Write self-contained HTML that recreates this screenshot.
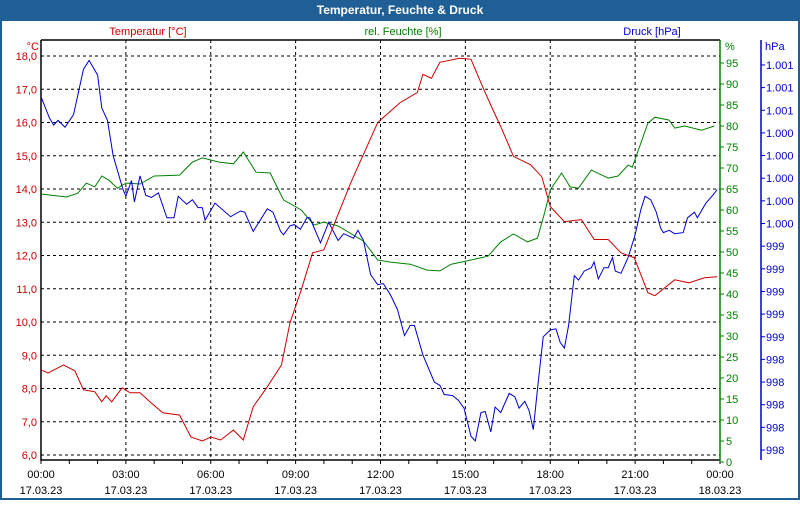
<!DOCTYPE html>
<html><head><meta charset="utf-8">
<style>
html,body{margin:0;padding:0;background:#fff;}
body{width:800px;height:500px;overflow:hidden;font-family:"Liberation Sans","DejaVu Sans",sans-serif;}
</style></head>
<body>
<svg id="chart" width="800" height="500" xmlns="http://www.w3.org/2000/svg" font-family="Liberation Sans, DejaVu Sans, sans-serif" font-size="11">
  <rect x="0" y="0" width="800" height="500" fill="#1f5f96"/>
  <rect x="2" y="21" width="796" height="477" fill="#ffffff"/>
  <text x="400" y="14" text-anchor="middle" fill="#ffffff" font-weight="bold" font-size="12">Temperatur, Feuchte &amp; Druck</text>
  <text x="148" y="35" text-anchor="middle" fill="#cc0000">Temperatur [°C]</text>
  <text x="403" y="35" text-anchor="middle" fill="#008000">rel. Feuchte [%]</text>
  <text x="652" y="35" text-anchor="middle" fill="#0000cc">Druck [hPa]</text>
  <text x="39" y="50" text-anchor="end" fill="#cc0000">°C</text>
  <text x="725" y="50" fill="#008000">%</text>
  <text x="765" y="50" fill="#0000cc">hPa</text>
  <g id="grid"></g>
  <g id="axes"></g>
  <g id="series"></g>
</svg>
<script>
const tempHours = [0,0.25,0.8,1.2,1.5,1.9,2.15,2.3,2.5,2.87,3.15,3.5,3.85,4.3,4.9,5.3,5.7,6.0,6.35,6.8,7.15,7.5,8.0,8.5,8.8,9.2,9.6,10.0,10.95,11.9,12.7,13.3,13.5,13.8,14.1,14.8,15.2,15.65,16.0,16.25,16.7,17.3,17.7,18.0,18.5,19.1,19.55,20.05,20.5,20.97,21.45,21.7,22.4,22.9,23.45,23.9];
const tempValues = [8.56,8.47,8.71,8.53,7.96,7.90,7.60,7.78,7.60,8.02,7.87,7.87,7.60,7.27,7.20,6.54,6.42,6.54,6.45,6.75,6.45,7.45,8.05,8.71,9.98,10.97,12.08,12.17,14.19,16.0,16.6,16.9,17.45,17.33,17.81,17.93,17.9,16.99,16.33,15.88,14.98,14.73,14.37,13.47,13.02,13.08,12.48,12.48,12.08,11.93,10.88,10.79,11.27,11.18,11.33,11.36];
const humHours = [0,0.9,1.3,1.6,1.9,2.15,2.4,2.7,3.0,3.5,4.0,4.9,5.35,5.7,6.3,6.8,7.15,7.6,8.1,8.57,9.2,9.65,10.0,10.5,11.4,11.9,12.35,13.05,13.65,14.1,14.5,15.2,15.8,16.25,16.7,17.2,17.55,17.8,18.0,18.4,18.7,19.0,19.45,20.05,20.4,20.75,20.9,21.45,21.7,22.2,22.4,22.75,23.35,23.8];
const humValues = [63.8,63.1,64.0,66.4,65.5,68.1,67.1,65.2,66.4,66.2,68.1,68.3,71.4,72.4,71.4,71.0,73.8,69.0,68.8,62.4,60.0,56.4,57.1,56.2,52.6,48.1,47.6,47.1,45.7,45.5,47.1,48.1,49.0,52.4,54.3,52.4,53.3,59.3,64.8,68.8,65.5,65.2,69.5,67.6,68.1,70.7,70.2,80.7,82.1,81.4,79.5,80.0,79.0,80.0];
const presHours = [0,0.3,0.45,0.6,0.85,1.15,1.5,1.7,2.0,2.15,2.35,2.55,2.7,2.9,3.0,3.2,3.3,3.5,3.7,3.9,4.15,4.45,4.7,4.85,5.15,5.35,5.55,5.7,5.8,6.15,6.7,7.05,7.2,7.5,8.0,8.2,8.47,8.57,8.8,8.95,9.17,9.4,9.5,9.88,10.17,10.5,10.7,11.05,11.2,11.4,11.65,11.9,12.1,12.35,12.6,12.85,13.05,13.2,13.5,13.9,14.1,14.25,14.55,14.75,14.95,15.2,15.35,15.55,15.7,15.9,16.05,16.25,16.55,16.75,16.9,17.1,17.25,17.4,17.55,17.75,18.0,18.2,18.35,18.5,18.65,18.85,19.0,19.2,19.45,19.55,19.7,19.9,20.05,20.2,20.3,20.5,20.75,21.0,21.2,21.35,21.55,21.75,21.9,22.0,22.2,22.4,22.7,22.85,23.1,23.2,23.5,23.75,23.9];
const presValues = [1000.72,1000.53,1000.47,1000.51,1000.45,1000.56,1000.96,1001.04,1000.91,1000.62,1000.51,1000.20,1000.07,999.90,999.84,999.98,999.79,1000.02,999.85,999.83,999.87,999.65,999.65,999.84,999.77,999.81,999.74,999.74,999.63,999.78,999.66,999.71,999.70,999.53,999.73,999.70,999.53,999.50,999.58,999.59,999.55,999.65,999.65,999.43,999.61,999.45,999.51,999.47,999.54,999.45,999.15,999.06,999.07,998.97,998.84,998.61,998.70,998.70,998.44,998.20,998.17,998.09,998.08,998.04,997.97,997.72,997.68,997.93,997.94,997.76,997.98,997.93,998.10,998.07,997.97,998.03,997.95,997.78,998.14,998.60,998.66,998.67,998.55,998.50,998.70,999.14,999.10,999.18,999.21,999.26,999.11,999.21,999.21,999.30,999.18,999.16,999.30,999.50,999.72,999.84,999.81,999.70,999.56,999.52,999.54,999.51,999.52,999.65,999.70,999.65,999.78,999.85,999.90];
const tempTicks = [6,7,8,9,10,11,12,13,14,15,16,17,18];
const humTicks = [0,5,10,15,20,25,30,35,40,45,50,55,60,65,70,75,80,85,90,95];
const presTickLabels = ["998","998","998","998","998","999","999","999","999","999","1.000","1.000","1.000","1.000","1.000","1.001","1.001","1.001"];
const timeLabels = ["00:00","03:00","06:00","09:00","12:00","15:00","18:00","21:00","00:00"];
const dateLabels = ["17.03.23","17.03.23","17.03.23","17.03.23","17.03.23","17.03.23","17.03.23","17.03.23","18.03.23"];

const NS = "http://www.w3.org/2000/svg";
const X0 = 41, X1 = 720, YTOP = 40, YBOT = 460;
const xOf = h => X0 + h * (X1 - X0) / 24;
const yTemp = t => 455 - (t - 6) * 33.25;
const yHum = v => 462 - v * 4.2;
const PRES_MIN = 997.6, PRES_STEP = 0.2;
const yPres = p => 450 - (p - PRES_MIN) / PRES_STEP * 22.65;

function mk(tag, attrs, parent) {
  const el = document.createElementNS(NS, tag);
  for (const k in attrs) el.setAttribute(k, attrs[k]);
  parent.appendChild(el);
  return el;
}
const grid = document.getElementById('grid');
const axes = document.getElementById('axes');
const series = document.getElementById('series');

tempTicks.forEach(t => {
  const y = yTemp(t);
  const g = mk('line', {x1: X0, x2: X1, y1: y, y2: y, stroke: '#000', 'stroke-dasharray': '3,3', 'stroke-width': 1}, grid);
  
  
  const lb = mk('text', {x: 37, y: y + 4, 'text-anchor': 'end', fill: '#cc0000'}, axes);
  lb.textContent = t.toFixed(1).replace('.', ',');
  
  
});
timeLabels.forEach((lab, i) => {
  const x = xOf(i * 3);
  if (i > 0 && i < 8) {
    const g = mk('line', {x1: x, x2: x, y1: YTOP, y2: YBOT, stroke: '#000', 'stroke-dasharray': '3,3', 'stroke-width': 1}, grid);
    
    
  }
  const t1 = mk('text', {x: x, y: 478, 'text-anchor': 'middle', fill: '#000'}, axes);
  t1.textContent = lab;
  
  
  const t2 = mk('text', {x: x, y: 494, 'text-anchor': 'middle', fill: '#000'}, axes);
  t2.textContent = dateLabels[i];
  
  
});
for (let h = 0; h <= 24; h++) {
  const x = xOf(h);
  const tk = mk('line', {x1: x, x2: x, y1: YBOT, y2: YBOT + 4, stroke: '#000'}, axes);
  
  
}
humTicks.forEach(v => {
  const y = yHum(v);
  const tk = mk('line', {x1: X1, x2: X1 + 4, y1: y, y2: y, stroke: '#008000'}, axes);
  
  
  const lb = mk('text', {x: X1 + 6, y: y + 4, fill: '#008000'}, axes);
  lb.textContent = v;
  
  
});
presTickLabels.forEach((lab, i) => {
  const y = yPres(PRES_MIN + i * PRES_STEP);
  const tk = mk('line', {x1: 761, x2: 765, y1: y, y2: y, stroke: '#0000cc'}, axes);
  
  
  const lb = mk('text', {x: 766, y: y + 4, fill: '#0000cc'}, axes);
  lb.textContent = lab;
  
  
});
const a1 = mk('line', {x1: X0, x2: X0, y1: YTOP, y2: YBOT + 1, stroke: '#000', 'stroke-width': 1.5}, axes);


const a2 = mk('line', {x1: X0, x2: X1, y1: YTOP, y2: YTOP, stroke: '#000', 'stroke-width': 1.5}, axes);


const a3 = mk('line', {x1: X0, x2: X1, y1: YBOT, y2: YBOT, stroke: '#000', 'stroke-width': 1.5}, axes);


const a4 = mk('line', {x1: X1, x2: X1, y1: YTOP, y2: YBOT + 1, stroke: '#008000', 'stroke-width': 1.5}, axes);


const a5 = mk('line', {x1: 761, x2: 761, y1: YTOP, y2: YBOT, stroke: '#0000cc', 'stroke-width': 1.5}, axes);



function pathOf(hours, vals, yf) {
  return hours.map((h, i) => (i ? 'L' : 'M') + xOf(h).toFixed(1) + ' ' + yf(vals[i]).toFixed(1)).join(' ');
}
const pH = mk('path', {d: pathOf(humHours, humValues, yHum), fill: 'none', stroke: '#008000', 'stroke-width': 1}, series);


const pP = mk('path', {d: pathOf(presHours, presValues, yPres), fill: 'none', stroke: '#0000cc', 'stroke-width': 1}, series);


const pT = mk('path', {d: pathOf(tempHours, tempValues, yTemp), fill: 'none', stroke: '#cc0000', 'stroke-width': 1}, series);


</script>
</body></html>
